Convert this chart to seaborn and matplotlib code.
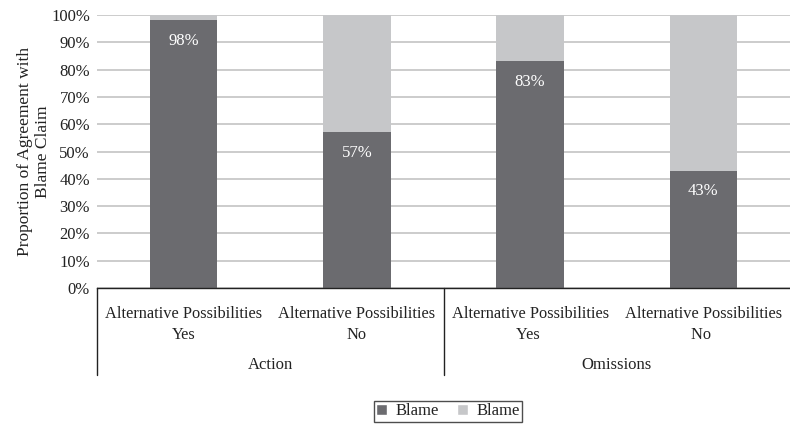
import matplotlib
matplotlib.use("Agg")
import matplotlib.pyplot as plt
import matplotlib.transforms as mtransforms
from matplotlib.patches import Patch
import seaborn as sns
import pandas as pd

categories = ["Alternative Possibilities\nYes", "Alternative Possibilities\nNo",
              "Alternative Possibilities\nYes ", "Alternative Possibilities\nNo "]
groups = ["Action", "Omissions"]
blame = [98, 57, 83, 43]
not_blame = [2, 43, 17, 57]
yticks = [0, 10, 20, 30, 40, 50, 60, 70, 80, 90, 100]

dark = "#6b6b6f"
light = "#c6c7c9"

sns.set_style("white")
plt.rcParams['font.family'] = ['Liberation Serif', 'DejaVu Serif']

df = pd.DataFrame({"cat": categories, "blame": blame, "not_blame": not_blame})

fig = plt.figure(figsize=(7.9, 4.26), dpi=100)
ax = fig.add_axes([97 / 790, 1 - 288 / 426, 693 / 790, 273 / 426])

sns.barplot(data=df, x="cat", y="blame", color=dark, width=0.39, ax=ax,
            saturation=1, linewidth=0, zorder=3)
sns.barplot(data=df, x="cat", y="not_blame", color=light, width=0.39, ax=ax,
            saturation=1, linewidth=0, bottom=df["blame"], zorder=3)

ax.set_ylim(0, 100)
ax.set_xlim(-0.5, 3.5)
ax.set_yticks(yticks)
ax.set_yticklabels([f"{t}%" for t in yticks], fontsize=12, color="#222222")
ax.yaxis.grid(True, color="#c8c8c8", linewidth=1.3, zorder=0)
ax.set_axisbelow(True)
ax.tick_params(axis="both", length=0)
ax.tick_params(axis="y", pad=5)
ax.tick_params(axis="x", pad=13)
ax.set_xticks(range(4))
ax.set_xticklabels(categories, fontsize=11.8, color="#222222", linespacing=1.4)
ax.set_xlabel("")
ax.set_ylabel("Proportion of Agreement with\nBlame Claim", fontsize=12.5,
              color="#222222", linespacing=1.15, labelpad=0)

for s in ["top", "right", "left"]:
    ax.spines[s].set_visible(False)
ax.spines["bottom"].set_color("#222222")
ax.spines["bottom"].set_linewidth(1.0)
ax.spines["bottom"].set_zorder(4)

for i, v in enumerate(blame):
    ax.text(i, v - 7.5, f"{v}%", ha="center", va="center", color="white",
            fontsize=12, zorder=5)

trans = mtransforms.blended_transform_factory(ax.transData, ax.transAxes)
for xline in [-0.5, 1.5]:
    ax.plot([xline, xline], [0, -87 / 273], transform=trans, color="#222222",
            linewidth=1.0, clip_on=False)
for gi, g in enumerate(groups):
    ax.text(gi * 2 + 0.5, -77 / 273, g, transform=trans, ha="center",
            va="center", fontsize=12, color="#222222")

handles = [Patch(facecolor=dark, label="Blame"), Patch(facecolor=light, label="Blame")]
leg = fig.legend(handles=handles, loc="center", bbox_to_anchor=(448 / 790, 1 - 411 / 426),
                 ncol=2, fontsize=12, frameon=True, fancybox=False,
                 handlelength=0.65, handleheight=0.65, handletextpad=0.5,
                 columnspacing=1.1, borderpad=0.15, labelcolor="#222222")
leg.get_frame().set_edgecolor("#222222")
leg.get_frame().set_linewidth(1.0)

fig.savefig("out.png", dpi=100)
